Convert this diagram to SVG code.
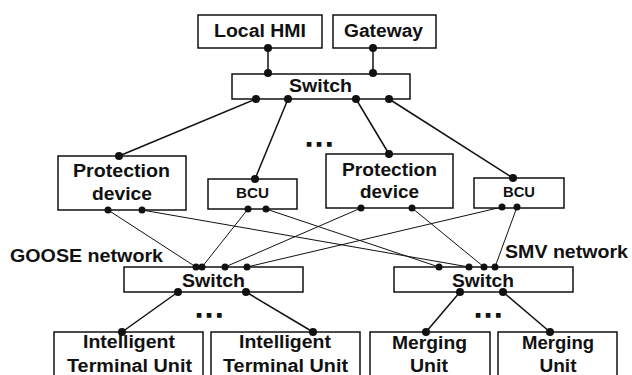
<svg xmlns="http://www.w3.org/2000/svg" width="632" height="375" viewBox="0 0 632 375">
<style>
.box{fill:#fff;stroke:#111;stroke-width:1.5}
.t{font-family:"Liberation Sans",Arial,sans-serif;font-weight:bold;font-size:18px;fill:#111;text-anchor:middle}
.s{font-size:15px}
.lbl{text-anchor:start}
.dots{font-family:"Liberation Sans",Arial,sans-serif;font-weight:bold;font-size:22px;fill:#111;stroke:#111;stroke-width:1.5;letter-spacing:4px}
.c{stroke:#111;stroke-width:1.5;fill:none}
.x{stroke:#111;stroke-width:1;fill:none}
.d{fill:#111}
</style>
<rect width="632" height="375" fill="#fff"/>
<g id="connectors">
  <line class="c" x1="268" y1="48" x2="268" y2="74"/>
  <line class="c" x1="373" y1="48" x2="373" y2="74"/>
  <line class="c" x1="256" y1="99" x2="119" y2="156"/>
  <line class="c" x1="288" y1="99" x2="255" y2="179"/>
  <line class="c" x1="356" y1="99" x2="389" y2="154"/>
  <line class="c" x1="389" y1="99" x2="513" y2="178"/>
  <line class="x" x1="108" y1="210" x2="196" y2="267"/>
  <line class="x" x1="248" y1="209" x2="202" y2="267"/>
  <line class="x" x1="361" y1="208" x2="225" y2="267"/>
  <line class="x" x1="502" y1="207" x2="247" y2="267"/>
  <line class="x" x1="266" y1="209" x2="439" y2="267"/>
  <line class="x" x1="142" y1="210" x2="469" y2="267"/>
  <line class="x" x1="412" y1="208" x2="484" y2="267"/>
  <line class="x" x1="517" y1="207" x2="495" y2="267"/>
  <line class="c" x1="178" y1="292" x2="122" y2="332"/>
  <line class="c" x1="246" y1="292" x2="313" y2="332"/>
  <line class="c" x1="460" y1="292" x2="426" y2="332"/>
  <line class="c" x1="503" y1="292" x2="550" y2="332"/>
</g>
<g id="local-hmi">
  <rect class="box" x="198" y="15" width="124" height="33"/>
  <text class="t" x="260" y="37" textLength="92" lengthAdjust="spacingAndGlyphs">Local HMI</text>
</g>
<g id="gateway">
  <rect class="box" x="333" y="15" width="103" height="33"/>
  <text class="t" x="383.5" y="37" textLength="79" lengthAdjust="spacingAndGlyphs">Gateway</text>
</g>
<g id="switch-top">
  <rect class="box" x="232" y="74" width="178" height="25"/>
  <text class="t" x="320.5" y="92" font-size="19" textLength="63" lengthAdjust="spacingAndGlyphs">Switch</text>
</g>
<g id="protection-1">
  <rect class="box" x="58" y="156" width="128" height="54"/>
  <text class="t" x="121.5" y="177" textLength="97" lengthAdjust="spacingAndGlyphs">Protection</text>
  <text class="t" x="122" y="200" textLength="60" lengthAdjust="spacingAndGlyphs">device</text>
</g>
<g id="bcu-1">
  <rect class="box" x="208" y="179" width="89" height="30"/>
  <text class="t s" x="252.5" y="198" textLength="33" lengthAdjust="spacingAndGlyphs">BCU</text>
</g>
<g id="protection-2">
  <rect class="box" x="326" y="154" width="127" height="54"/>
  <text class="t" x="389.5" y="176" textLength="95" lengthAdjust="spacingAndGlyphs">Protection</text>
  <text class="t" x="389.5" y="198" textLength="59" lengthAdjust="spacingAndGlyphs">device</text>
</g>
<g id="bcu-2">
  <rect class="box" x="474" y="178" width="90" height="30"/>
  <text class="t s" x="519" y="197" textLength="32" lengthAdjust="spacingAndGlyphs">BCU</text>
</g>
<text class="dots" x="306" y="145.5">...</text>
<text class="t lbl" x="10" y="262" textLength="153" lengthAdjust="spacingAndGlyphs">GOOSE network</text>
<text class="t lbl" x="505" y="258" textLength="123" lengthAdjust="spacingAndGlyphs">SMV network</text>
<g id="switch-goose">
  <rect class="box" x="124" y="267" width="179" height="25"/>
  <text class="t" x="213.5" y="287" font-size="19" textLength="63" lengthAdjust="spacingAndGlyphs">Switch</text>
</g>
<g id="switch-smv">
  <rect class="box" x="394" y="267" width="179" height="25"/>
  <text class="t" x="483" y="287" font-size="19" textLength="62" lengthAdjust="spacingAndGlyphs">Switch</text>
</g>
<text class="dots" x="196" y="316.5">...</text>
<text class="dots" x="475" y="316.5">...</text>
<g id="itu-1">
  <rect class="box" x="54" y="332" width="149" height="50"/>
  <text class="t" x="129" y="348" textLength="92" lengthAdjust="spacingAndGlyphs">Intelligent</text>
  <text class="t" x="129.5" y="372" textLength="125" lengthAdjust="spacingAndGlyphs">Terminal Unit</text>
</g>
<g id="itu-2">
  <rect class="box" x="211" y="332" width="149" height="50"/>
  <text class="t" x="285" y="348" textLength="92" lengthAdjust="spacingAndGlyphs">Intelligent</text>
  <text class="t" x="285.5" y="372" textLength="125" lengthAdjust="spacingAndGlyphs">Terminal Unit</text>
</g>
<g id="mu-1">
  <rect class="box" x="370" y="332" width="120" height="50"/>
  <text class="t" x="429.5" y="349" textLength="75" lengthAdjust="spacingAndGlyphs">Merging</text>
  <text class="t" x="429" y="372" textLength="38" lengthAdjust="spacingAndGlyphs">Unit</text>
</g>
<g id="mu-2">
  <rect class="box" x="498" y="332" width="119" height="50"/>
  <text class="t" x="558" y="349" textLength="72" lengthAdjust="spacingAndGlyphs">Merging</text>
  <text class="t" x="558" y="372" textLength="37" lengthAdjust="spacingAndGlyphs">Unit</text>
</g>
<g id="ports">
  <circle class="d" cx="268" cy="48" r="4"/>
  <circle class="d" cx="373" cy="48" r="4"/>
  <circle class="d" cx="268" cy="73" r="4"/>
  <circle class="d" cx="373" cy="73" r="4"/>
  <circle class="d" cx="256" cy="99" r="4"/>
  <circle class="d" cx="288" cy="99" r="4"/>
  <circle class="d" cx="356" cy="99" r="4"/>
  <circle class="d" cx="389" cy="99" r="4"/>
  <circle class="d" cx="119" cy="156" r="4"/>
  <circle class="d" cx="255" cy="179" r="4"/>
  <circle class="d" cx="389" cy="154" r="4"/>
  <circle class="d" cx="513" cy="178" r="4"/>
  <circle class="d" cx="108" cy="210" r="3.5"/>
  <circle class="d" cx="142" cy="210" r="3.5"/>
  <circle class="d" cx="248" cy="209" r="3.5"/>
  <circle class="d" cx="266" cy="209" r="3.5"/>
  <circle class="d" cx="361" cy="208" r="3.5"/>
  <circle class="d" cx="412" cy="208" r="3.5"/>
  <circle class="d" cx="502" cy="207" r="3.5"/>
  <circle class="d" cx="517" cy="207" r="3.5"/>
  <circle class="d" cx="196" cy="267" r="3.5"/>
  <circle class="d" cx="202" cy="267" r="3.5"/>
  <circle class="d" cx="225" cy="267" r="3.5"/>
  <circle class="d" cx="247" cy="267" r="3.5"/>
  <circle class="d" cx="439" cy="267" r="3.5"/>
  <circle class="d" cx="469" cy="267" r="3.5"/>
  <circle class="d" cx="484" cy="267" r="3.5"/>
  <circle class="d" cx="495" cy="267" r="3.5"/>
  <circle class="d" cx="178" cy="292" r="4"/>
  <circle class="d" cx="246" cy="292" r="4"/>
  <circle class="d" cx="460" cy="292" r="4"/>
  <circle class="d" cx="503" cy="292" r="4"/>
  <circle class="d" cx="122" cy="332" r="4"/>
  <circle class="d" cx="313" cy="332" r="4"/>
  <circle class="d" cx="426" cy="332" r="4"/>
  <circle class="d" cx="550" cy="332" r="4"/>
</g>
</svg>
